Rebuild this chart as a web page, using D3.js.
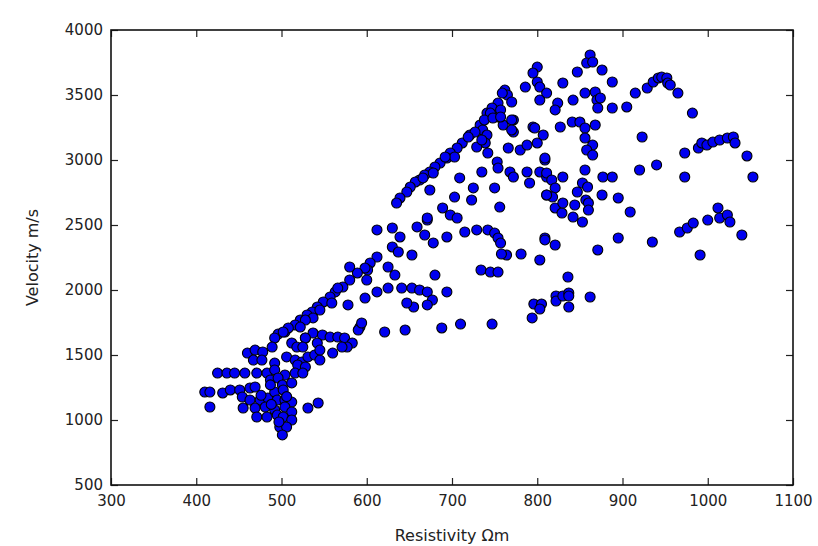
<!DOCTYPE html>
<html><head><meta charset="utf-8">
<script src="https://cdn.jsdelivr.net/npm/d3@7"></script>
<style>
html,body{margin:0;padding:0;background:#fff;}
svg text{font-family:"DejaVu Sans",sans-serif;fill:#222;}
</style></head>
<body><svg id="chart" width="818" height="546"></svg>
<script>
// Data (resistivity Ωm, velocity m/s)
const resistivity = [
504,496,492,528,512,518,460,469,478,489,467,477,492,506,516,524,531,539,545,519,528,
425,436,445,457,471,483,492,504,516,525,487,496,501,512,410,416,431,440,451,463,469,416,
454,463,475,484,492,502,495,504,512,455,469,481,492,504,512,531,543,471,483,495,502,512,
498,506,501,476,488,506,497,487,
537,548,557,566,574,583,577,571,542,528,525,545,560,
580,572,563,557,549,542,536,530,522,516,508,502,566,559,545,537,528,522,578,598,
612,604,601,598,589,580,625,633,680,694,600,
612,625,641,653,662,671,677,671,655,647,592,590,594,621,645,688,
612,630,639,659,668,671,694,630,637,653,678,
741,748,754,760,772,733,736,741,739,721,727,
712,706,698,694,686,680,674,668,662,657,651,647,639,635,
703,692,678,666,772,766,780,788,795,800,807,742,753,754,735,768,772,788,791,803,811,809,
709,725,723,703,750,756,674,689,698,706,671,715,729,742,750,754,757,809,811,
862,858,865,876,847,888,800,795,800,803,786,830,762,765,759,811,803,
770,754,747,757,745,738,748,757,770,824,821,842,856,868,870,871,888,905,
827,841,850,856,868,797,856,865,858,865,770,729,719,735,809,
874,915,929,936,942,946,952,953,956,965,982,923,973,973,920,940,877,888,
989,993,999,1006,1014,1023,1030,1032,1046,1053,
811,817,821,818,811,821,829,830,830,853,859,847,857,860,844,842,853,860,856,876,895,909,
809,821,871,895,935,991,967,976,983,1000,1012,1014,1023,1026,1040,803,836,
734,745,754,710,747,796,805,803,794,822,822,830,837,837,837,862,764,781,758
];
const velocity = [
1677,1661,1631,1631,1592,1561,1515,1538,1523,1561,1461,1461,1438,1485,1461,1446,1485,1500,1461,1423,1408,
1361,1361,1361,1361,1361,1361,1385,1346,1361,1361,1308,1323,1269,1285,1215,1215,1208,1231,1231,1246,1254,1100,
1177,1154,1154,1169,1215,1231,1154,1154,1138,1092,1092,1100,1077,1100,1062,1092,1131,1023,1023,1038,1023,1000,
946,946,885,1190,1120,1180,985,1270,
1669,1654,1638,1638,1631,1592,1561,1561,1592,1631,1561,1538,1515,
2077,2023,1985,1946,1908,1869,1831,1808,1769,1731,1708,1677,2015,1900,1846,1785,1769,1715,1885,1938,
2254,2208,2154,2169,2131,2177,2177,2115,2115,1985,2077,
1985,2015,2015,2015,2000,1985,1923,1885,1869,1900,1715,1692,1746,1677,1692,1708,
2462,2477,2408,2485,2423,2538,2408,2331,2292,2269,2362,
3361,3346,3331,3269,3308,3269,3231,3192,3131,3192,3215,
3131,3092,3054,3015,2977,2946,2908,2885,2846,2831,2792,2754,2708,2669,
3023,3023,2900,2862,3215,3092,3077,3115,3254,3131,3192,3054,2985,2938,2908,2908,2869,2908,2823,2908,2869,3000,
2862,2785,2692,2715,2785,2638,2769,2631,2577,2554,2554,2446,2462,2462,2438,2400,2361,2400,2731,
3808,3746,3754,3692,3677,3600,3715,3669,3600,3561,3561,3592,3538,3500,3515,3515,3461,
3446,3438,3400,3385,3361,3308,3323,3331,3308,3438,3385,3461,3515,3523,3461,3400,3400,3408,
3254,3292,3292,3246,3269,3246,3169,3115,3077,3038,3231,3100,3177,3154,3015,
3477,3515,3554,3600,3631,3638,3631,3592,3577,3515,3361,3177,3054,2869,2923,2962,2869,2869,
3092,3131,3115,3138,3154,3169,3177,3131,3031,2869,
2900,2846,2785,2715,2731,2631,2592,2669,2869,2823,2792,2754,2692,2669,2654,2561,2523,2615,2923,2731,2708,2600,
2385,2346,2308,2400,2369,2269,2446,2477,2515,2538,2631,2554,2577,2523,2423,2231,2100,
2154,2138,2138,1738,1738,1892,1892,1854,1785,1954,1915,1954,1977,1954,1869,1946,2269,2277,2277
];
const xTicks = [300,400,500,600,700,800,900,1000,1100];
const yTicks = [500,1000,1500,2000,2500,3000,3500,4000];
const xLabel = "Resistivity Ωm";
const yLabel = "Velocity m/s";

const points = resistivity.map((r,i)=>({x:r, y:velocity[i]}));

const svg = d3.select("#chart");
const m = {left:111, right:793, top:30, bottom:485};
const x = d3.scaleLinear().domain([300,1100]).range([m.left, m.right]);
const y = d3.scaleLinear().domain([500,4000]).range([m.bottom, m.top]);

const fs = "15px";
const tickLen = 7;

// points
svg.append("g").selectAll("circle").data(points).join("circle")
  .attr("cx", d=>x(d.x)).attr("cy", d=>y(d.y)).attr("r", 5)
  .attr("fill", "#0000f0").attr("stroke", "#000").attr("stroke-width", 1.1);

// axes (ticks inside, on all sides)
const gBottom = svg.append("g").attr("transform", `translate(0,${m.bottom})`)
  .call(d3.axisBottom(x).tickValues(xTicks).tickSize(-tickLen).tickPadding(10).tickFormat(d3.format("d")));
const gTop = svg.append("g").attr("transform", `translate(0,${m.top})`)
  .call(d3.axisTop(x).tickValues(xTicks).tickSize(-tickLen).tickFormat(""));
const gLeft = svg.append("g").attr("transform", `translate(${m.left},0)`)
  .call(d3.axisLeft(y).tickValues(yTicks).tickSize(-tickLen).tickPadding(8).tickFormat(d3.format("d")));
const gRight = svg.append("g").attr("transform", `translate(${m.right},0)`)
  .call(d3.axisRight(y).tickValues(yTicks).tickSize(-tickLen).tickFormat(""));
[gBottom, gTop, gLeft, gRight].forEach(g=>{
  g.select(".domain").remove();
  g.selectAll(".tick line").attr("stroke", "#222").attr("stroke-width", 1.2);
  g.selectAll(".tick text").style("font-size", fs).attr("fill", "#222").style("font-family", "'DejaVu Sans', sans-serif");
});

// frame
svg.append("rect").attr("x", m.left).attr("y", m.top)
  .attr("width", m.right - m.left).attr("height", m.bottom - m.top)
  .attr("fill", "none").attr("stroke", "#111").attr("stroke-width", 1.6);

// axis labels
svg.append("text").attr("x", (m.left + m.right)/2).attr("y", 541)
  .attr("text-anchor", "middle").style("font-size", "16px").text(xLabel);
svg.append("text").attr("transform", `translate(38,${(m.top+m.bottom)/2}) rotate(-90)`)
  .attr("text-anchor", "middle").style("font-size", "16px").text(yLabel);
</script></body></html>
